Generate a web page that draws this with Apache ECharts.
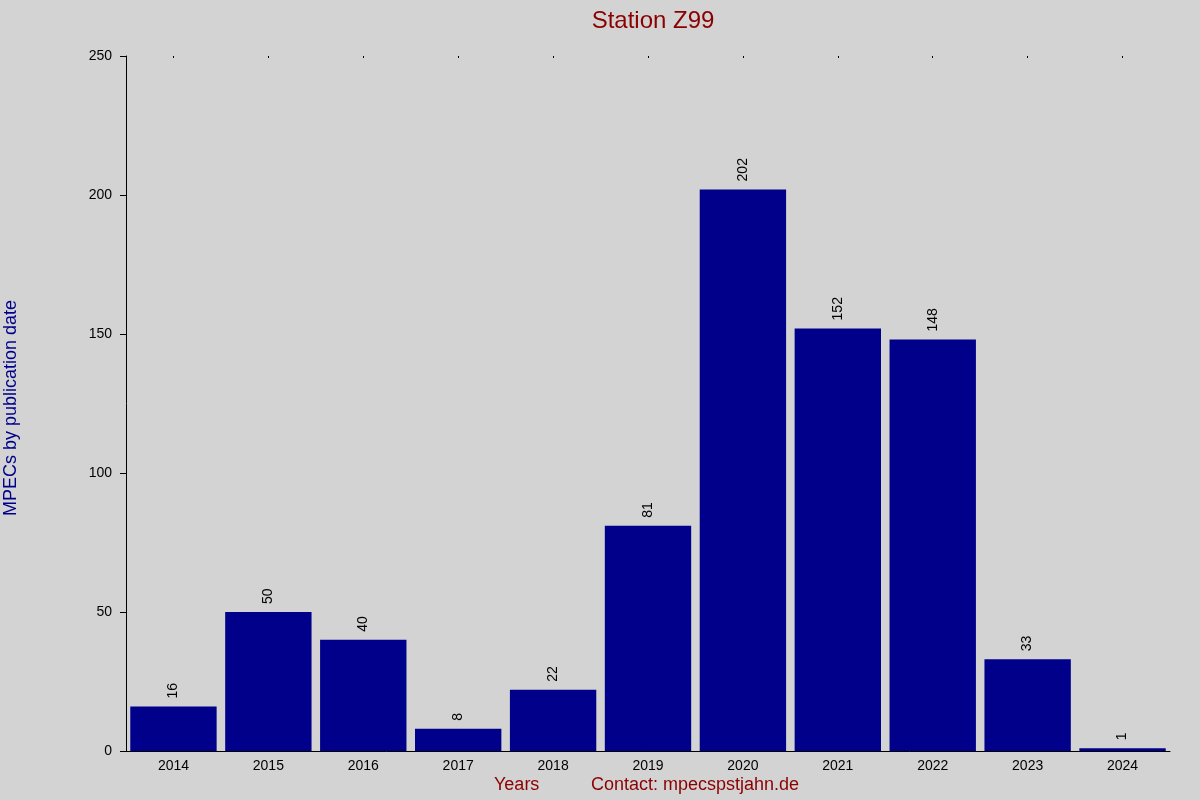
<!DOCTYPE html>
<html><head><meta charset="utf-8">
<script src="https://cdn.jsdelivr.net/npm/echarts@6/dist/echarts.min.js"></script>
<style>html,body{margin:0;background:#d3d3d3}#c{width:1200px;height:800px}</style>
</head><body><div id="c"></div>
<script>
const categories = ['2014','2015','2016','2017','2018','2019','2020','2021','2022','2023','2024'];
const values = [16,50,40,8,22,81,202,152,148,33,1];
const chart = echarts.init(document.getElementById('c'));
chart.setOption({
  backgroundColor:'#d3d3d3',
  animation:false,
  title:{text:'Station Z99',left:648,top:4,textAlign:'center',textStyle:{color:'#8b0000',fontSize:24,fontWeight:'normal',fontFamily:'Liberation Sans'}},
  grid:{left:126,right:30,top:56,bottom:49},
  graphic:[
    {type:'text',left:494,top:776,style:{text:'Years',fill:'#8b0000',font:'18px Liberation Sans'}},
    {type:'text',left:591,top:776,style:{text:'Contact: mpecspstjahn.de',fill:'#8b0000',font:'18px Liberation Sans'}},
    {type:'text',left:2,top:300,rotation:Math.PI/2,style:{text:'MPECs by publication date',fill:'#00008b',font:'18px Liberation Sans'}}
  ],
  xAxis:[{type:'category',data:categories,
    axisLine:{lineStyle:{color:'#000'}},axisTick:{show:false},
    axisLabel:{color:'#000',fontSize:14,fontFamily:'Liberation Sans',margin:8}},
    {type:'category',data:categories,position:'top',axisLine:{show:false},
    axisTick:{show:true,alignWithLabel:true,length:-2,lineStyle:{color:'#000'}},axisLabel:{show:false}}],
  yAxis:{type:'value',min:0,max:250,interval:50,
    axisLine:{show:true,lineStyle:{color:'#000'}},axisTick:{show:true,length:6,lineStyle:{color:'#000'}},
    splitLine:{show:false},axisLabel:{color:'#000',fontSize:14,fontFamily:'Liberation Sans',margin:14}},
  series:[{type:'bar',data:values,barCategoryGap:'9%',itemStyle:{color:'#00008b'},
    label:{show:true,position:'top',rotate:90,align:'left',verticalAlign:'middle',distance:8,color:'#000',fontSize:14,fontFamily:'Liberation Sans'}}]
});
</script></body></html>
